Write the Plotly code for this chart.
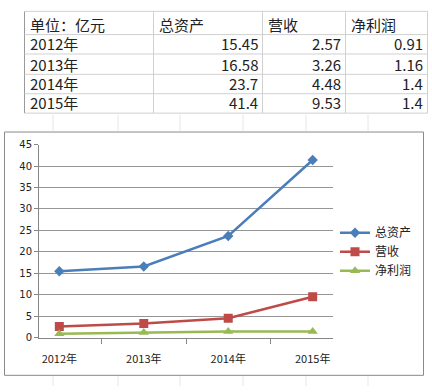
import plotly.graph_objects as go

W, H = 432, 392

years = ["2012年", "2013年", "2014年", "2015年"]
total_assets = [15.45, 16.58, 23.7, 41.4]
revenue = [2.57, 3.26, 4.48, 9.53]
net_profit = [0.91, 1.16, 1.4, 1.4]
series_names = ["总资产", "营收", "净利润"]
table_header = ["单位：亿元", "总资产", "营收", "净利润"]
table_values = {
    "总资产": ["15.45", "16.58", "23.7", "41.4"],
    "营收": ["2.57", "3.26", "4.48", "9.53"],
    "净利润": ["0.91", "1.16", "1.4", "1.4"],
}
y_ticks = [0, 5, 10, 15, 20, 25, 30, 35, 40, 45]

colors = ["#4a7ebb", "#be4b48", "#98b954"]
symbols = ["diamond", "square", "triangle-up"]
msizes = [8, 9, 9]

CJK = "Noto Sans CJK SC"

def px(x):
    return x / W

def py(y):
    return 1 - y / H

fig = go.Figure()
for name, vals, c, s, ms in zip(series_names, [total_assets, revenue, net_profit], colors, symbols, msizes):
    fig.add_trace(go.Scatter(
        x=years, y=vals, name=name, mode="lines+markers",
        line=dict(color=c, width=2.5),
        marker=dict(symbol=s, size=ms, color=c),
    ))

shapes = []
annotations = []

# chart outer border
shapes.append(dict(type="rect", xref="paper", yref="paper",
                   x0=px(4.5), x1=px(423.5), y0=py(381), y1=py(130),
                   line=dict(color="#8a8a8a", width=1), layer="below"))

# faint spreadsheet gridlines outside the chart
for gx in [53, 118, 180, 243, 306, 368]:
    shapes.append(dict(type="line", xref="paper", yref="paper",
                       x0=px(gx), x1=px(gx), y0=py(112), y1=py(129),
                       line=dict(color="#e6e6e6", width=1)))
    shapes.append(dict(type="line", xref="paper", yref="paper",
                       x0=px(gx), x1=px(gx), y0=py(382), y1=py(392),
                       line=dict(color="#e6e6e6", width=1)))

# table
col_edges = [24.5, 153.5, 262.5, 345.5, 427.5]
row_edges = [5.5, 29.5, 49.5, 70.5, 90.5, 110.5]
for i, cx in enumerate(col_edges):
    shapes.append(dict(type="line", xref="paper", yref="paper",
                       x0=px(cx), x1=px(cx), y0=py(row_edges[0]), y1=py(row_edges[-1]),
                       line=dict(color="#9a9a9a" if i == 0 else "#d0d0d0", width=1)))
for ry in row_edges:
    shapes.append(dict(type="line", xref="paper", yref="paper",
                       x0=px(col_edges[0]), x1=px(col_edges[-1]), y0=py(ry), y1=py(ry),
                       line=dict(color="#d0d0d0", width=1)))

row_centers = [19, 39, 60, 80, 100]
tfont = dict(family=CJK, size=15, color="#222222")
for j, txt in enumerate(table_header):
    annotations.append(dict(xref="paper", yref="paper", x=px(col_edges[j] + 3), y=py(row_centers[0]),
                            text=txt, showarrow=False, xanchor="left", yanchor="middle", font=tfont))
for r, yr in enumerate(years):
    annotations.append(dict(xref="paper", yref="paper", x=px(col_edges[0] + 3), y=py(row_centers[r + 1]),
                            text=yr, showarrow=False, xanchor="left", yanchor="middle", font=tfont))
    for j, nm in enumerate(series_names):
        annotations.append(dict(xref="paper", yref="paper", x=px(col_edges[j + 2] - 3), y=py(row_centers[r + 1]),
                                text=table_values[nm][r], showarrow=False, xanchor="right", yanchor="middle",
                                font=tfont))

fig.update_layout(
    width=W, height=H,
    margin=dict(l=0, r=0, t=0, b=0),
    paper_bgcolor="white", plot_bgcolor="white",
    showlegend=True,
    legend=dict(x=px(335), y=py(219), xanchor="left", yanchor="top",
                font=dict(family=CJK, size=12, color="#222222"),
                bgcolor="rgba(0,0,0,0)", itemwidth=30, tracegroupgap=0),
    xaxis=dict(domain=[px(39), px(333)], type="category", tickson="boundaries",
               ticks="outside", ticklen=5, tickcolor="#868686",
               showline=True, linecolor="#868686", linewidth=1,
               showgrid=False, zeroline=False, fixedrange=True,
               tickfont=dict(family=CJK, size=11, color="#222222"),
               ticklabelstandoff=11),
    yaxis=dict(domain=[py(342), py(143)], range=[0, 45], tickvals=y_ticks,
               ticks="outside", ticklen=4, tickcolor="#868686",
               showline=True, linecolor="#868686", linewidth=1,
               showgrid=True, gridcolor="#969696", gridwidth=1,
               zeroline=False, fixedrange=True,
               tickfont=dict(family="DejaVu Sans", size=10, color="#222222")),
    shapes=shapes,
    annotations=annotations,
)

fig.write_html("out.html")
